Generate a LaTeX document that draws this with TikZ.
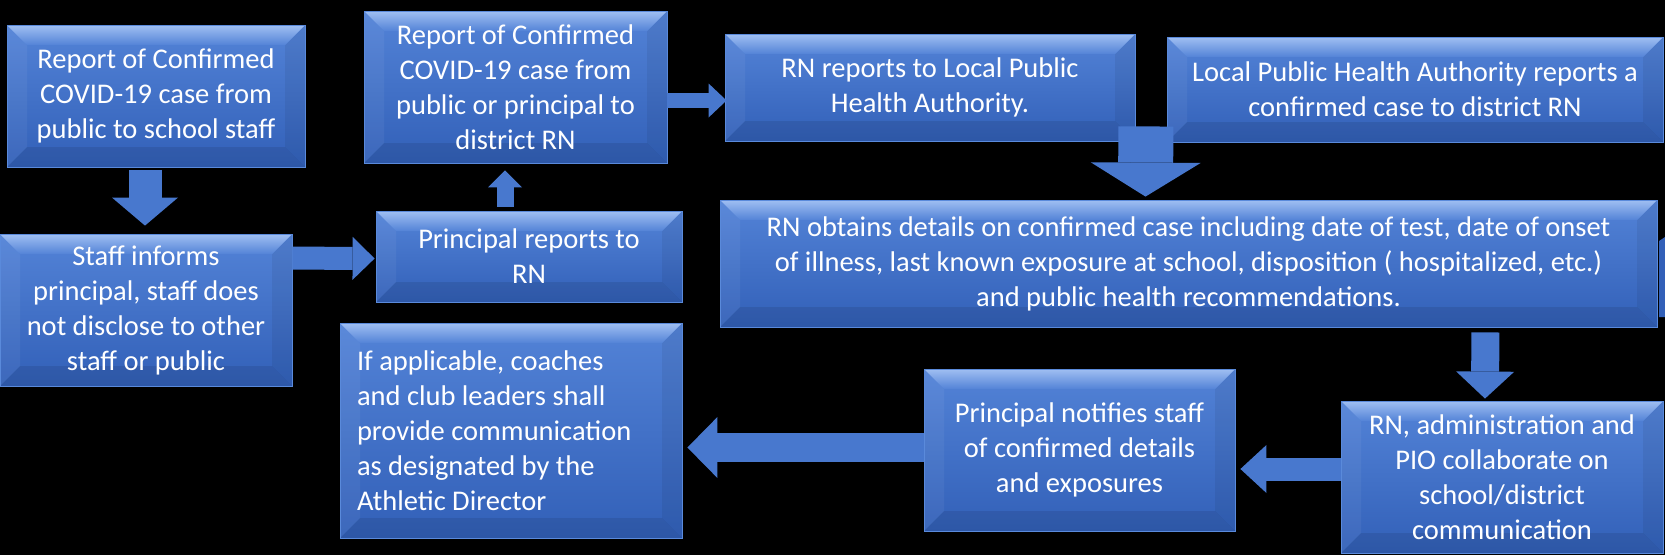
\documentclass[tikz,border=0pt]{standalone}
\usepackage{fontspec}
\setmainfont{Carlito}
\usetikzlibrary{calc,arrows.meta}

\definecolor{boxtop}{HTML}{5383D7}
\definecolor{boxbot}{HTML}{3260B8}
\definecolor{bevlight}{HTML}{A0BFF2}
\definecolor{boxedge}{HTML}{5A8ADB}
\definecolor{arrblue}{HTML}{4878CE}
\definecolor{arrlight}{HTML}{6C97E0}

\tikzset{
	box/.style={draw=boxedge, line width=0.5pt, top color=boxtop, bottom color=boxbot,
		text=white, align=center, inner sep=0pt, font=\fontsize{17.1}{21}\selectfont,
		path picture={
			\path (path picture bounding box.north west) coordinate (nw)
				(path picture bounding box.north east) coordinate (ne)
				(path picture bounding box.south east) coordinate (se)
				(path picture bounding box.south west) coordinate (sw);
			\fill[white, opacity=0.05] (nw) -- ($(nw)+(12pt,-12pt)$) -- ($(sw)+(12pt,12pt)$) -- (sw) -- cycle;
			\fill[black, opacity=0.06] (ne) -- ($(ne)+(-12pt,-12pt)$) -- ($(se)+(-12pt,12pt)$) -- (se) -- cycle;
			\fill[black, opacity=0.09] (sw) -- (se) -- ($(se)+(-12pt,12pt)$) -- ($(sw)+(12pt,12pt)$) -- cycle;
			\shade[top color=bevlight, bottom color=boxtop] (nw) -- (ne) -- ($(ne)+(-12pt,-12pt)$) -- ($(nw)+(12pt,-12pt)$) -- cycle;
		}},
	fatarr/.style n args={3}{draw=arrblue, line width=#1,
		-{Triangle[width=#2, length=#3, line width=0pt, fill=arrblue]}},
}

\begin{document}
\begin{tikzpicture}[x=0.6pt, y=-0.6pt]
			%%%%% START %%%%%
			
			\fill[black] (0,0) rectangle (1665,555);
			\useasboundingbox (0,0) rectangle (1665,555);
			
			\node[box, minimum width=178.8pt, minimum height=85.2pt] (rptstaff) at (156,96) {Report of Confirmed\\COVID-19 case from\\public to school staff};
			\node[box, minimum width=175.2pt, minimum height=91.2pt] (staffinf) at (146,310) {Staff informs\\principal, staff does\\not disclose to other\\staff or public};
			\node[box, minimum width=183.6pt, minimum height=54.6pt] (prinrn) at (529,256.5) {Principal reports to\\RN};
			\node[box, minimum width=181.8pt, minimum height=91.2pt] (rptrn) at (515.5,87) {Report of Confirmed\\COVID-19 case from\\public or principal to\\district RN};
			\node[box, minimum width=246pt, minimum height=64.2pt] (rnlpha) at (930,87.5) {RN reports to Local Public\\Health Authority.};
			\node[box, minimum width=297.6pt, minimum height=63pt] (lpharn) at (1415,89.5) {Local Public Health Authority reports a\\confirmed case to district RN};
			\node[box, minimum width=562.2pt, minimum height=76.2pt] (obtain) at (1188.5,263.5) {RN obtains details on confirmed case including date of test, date of onset\\of illness, last known exposure at school, disposition ( hospitalized, etc.)\\and public health recommendations.};
			\node[box, minimum width=193.2pt, minimum height=91.2pt] (collab) at (1502,477) {RN, administration and\\PIO collaborate on\\school/district\\communication};
			\node[box, minimum width=186.6pt, minimum height=97.2pt] (notify) at (1079.5,450) {Principal notifies staff\\of confirmed details\\and exposures};
			\node[box, minimum width=205.2pt, minimum height=129pt, text width=184.8pt, align=flush left] (coach) at (511,430.5) {If applicable, coaches\\and club leaders shall\\provide communication\\as designated by the\\Athletic Director};
			
			% edge of a shape cut off at the right
			\fill[boxbot] (1659,241) -- (1665,237) -- (1665,317) -- (1659,317) -- cycle;
			
			% block arrows
			\draw[fatarr={19.8pt}{39.6pt}{16.8pt}] ($(rptstaff.south)+(-11,3)$) -- ($(staffinf.north)+(-1,-8)$);
			\draw[fatarr={13.8pt}{25.8pt}{13.2pt}] ($(staffinf.north east)+(0,24.5)$) -- ($(prinrn.west)+(-1,2)$);
			\draw[fatarr={10.2pt}{20.4pt}{10.2pt}] ($(prinrn.north)+(-24,-4)$) -- ($(rptrn.south)+(-10.5,7)$);
			\draw[fatarr={9pt}{20.4pt}{10.8pt}] ($(rptrn.east)+(0,13.5)$) -- ($(rnlpha.west)+(2,13)$);
			\draw[fatarr={33pt}{66pt}{20.4pt}] ($(rnlpha.south east)+(10.5,-15)$) -- ($(obtain.north)+(-43,-3)$);
			\draw[fatarr={16.8pt}{34.8pt}{16.2pt}] ($(obtain.south east)+(-172,5)$) -- ($(collab.north)+(-17,-2)$);
			\draw[fatarr={13.8pt}{28.8pt}{15.6pt}] ($(collab.west)+(0,-8)$) -- ($(notify.east)+(5,19)$);
			\draw[fatarr={17.4pt}{36.6pt}{18pt}] ($(notify.west)+(0,-2.5)$) -- ($(coach.east)+(5,17)$);
			
			%%%%% END %%%%%
\end{tikzpicture}
\end{document}
